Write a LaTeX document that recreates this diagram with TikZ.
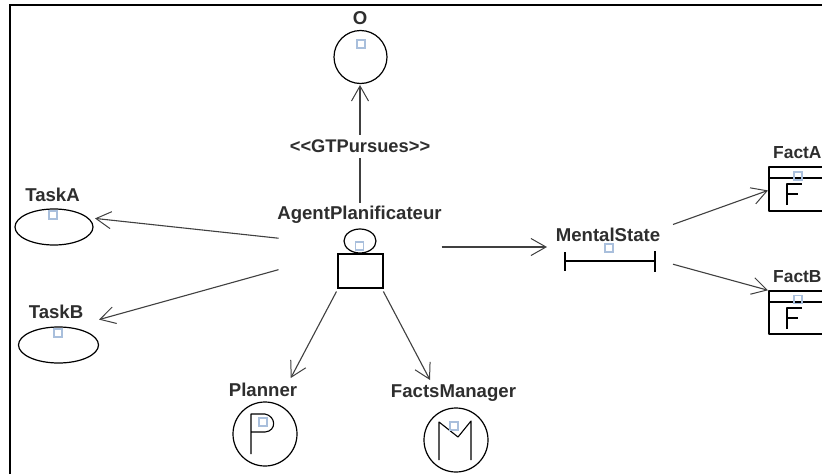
\documentclass[tikz,border=0pt]{standalone}
\usepackage{fontspec}
\setmainfont{Liberation Sans}
\usetikzlibrary{arrows.meta,shapes.geometric}
\definecolor{handle}{HTML}{A9BFDC}
\definecolor{labelc}{HTML}{2E2E2E}
\definecolor{linkc}{HTML}{404040}
\tikzset{
  x=1pt,y=-1pt,
  elabel/.style={font=\fontsize{18.6}{20}\selectfont\bfseries,text=labelc,inner sep=0pt,anchor=center},
  hull/.style={rectangle,minimum width=#1,inner sep=0pt,outer sep=0pt},
  shapeline/.style={draw=black,line width=1.2pt},
  iconline/.style={draw=black,line width=1.1pt,line join=round},
  grip/.style={draw=handle,line width=1.3pt,minimum size=8pt,inner sep=0pt,outer sep=0pt,rectangle},
  link/.style={draw=linkc,line width=1.1pt,-{Straight Barb[length=15pt,width=17pt,line width=1pt]}},
  plainlink/.style={draw=linkc,line width=1.1pt},
}
\begin{document}
\begin{tikzpicture}
\path[clip,use as bounding box] (0,0) rectangle (822,474);
\fill[white] (0,0) rectangle (822,474);
% frame
\draw[black,line width=2pt] (10,474) -- (10,4.5) -- (822,4.5);

% invisible hulls used as connector ends
\node[hull=163pt,minimum height=89pt] (agent) at (360,247) {};
\node[hull=60pt,minimum height=74pt] (goal) at (360,48) {};
\node[hull=82pt,minimum height=60pt] (taskA) at (54,214) {};
\node[hull=82pt,minimum height=60pt] (taskB) at (58,331) {};
\node[hull=80pt,minimum height=90pt] (planner) at (267,423) {};
\node[hull=132pt,minimum height=80pt] (facts) at (451,420) {};
\node[hull=126pt,minimum height=50pt] (mental) at (610,247) {};
\node[hull=64pt,minimum height=60pt] (factA) at (800,179) {};
\node[hull=64pt,minimum height=60pt] (factB) at (800,299) {};

% goal
\node[elabel] (goalText) at (360,18.5) {O};
\node[circle,shapeline,minimum size=53pt,inner sep=0pt] (goalIcon) at (360.5,57) {};
\node[grip] (goalGrip) at (361,44) {};

% agent
\node[elabel] (agentText) at (359.5,215) {AgentPlanificateur};
\node[ellipse,shapeline,minimum width=32pt,minimum height=24pt,inner sep=0pt] (agentHead) at (360,241) {};
\node[rectangle,shapeline,minimum width=45pt,minimum height=34pt,inner sep=0pt] (agentBody) at (360.5,271) {};
\node[grip] (agentGrip) at (359.5,246) {};

% tasks
\node[elabel] (taskAText) at (52.5,195) {TaskA};
\node[ellipse,shapeline,minimum width=78pt,minimum height=36pt,inner sep=0pt] (taskAIcon) at (54,227) {};
\node[grip] (taskAGrip) at (53,215) {};
\node[elabel] (taskBText) at (56,312) {TaskB};
\node[ellipse,shapeline,minimum width=80pt,minimum height=36pt,inner sep=0pt] (taskBIcon) at (58.5,345) {};
\node[grip] (taskBGrip) at (58,333) {};

% planner
\node[elabel] (plannerText) at (263,390) {Planner};
\node[circle,shapeline,minimum size=64pt,inner sep=0pt] (plannerIcon) at (265,434) {};
\draw[iconline] (251,454) -- (251,414) -- (265,414) .. controls (276,416) and (277,431) .. (265,432) -- (251,432);
\node[grip] (plannerGrip) at (263,422) {};

% facts manager
\node[elabel] (factsText) at (453.5,393) {FactsManager};
\node[circle,shapeline,minimum size=64pt,inner sep=0pt] (factsIcon) at (456,440) {};
\draw[iconline] (439,460) -- (439,422) -- (458,437) -- (471,421) -- (471,460);
\node[grip] (factsGrip) at (454,426) {};

% mental state
\node[elabel] (mentalText) at (608,235) {MentalState};
\draw[iconline] (565,252) -- (565,271) (565,261) -- (655,261) (655,251) -- (655,272);
\node[grip] (mentalGrip) at (609,248) {};

% facts
\node[elabel,anchor=west,font=\fontsize{17.4}{20}\selectfont\bfseries] (factAText) at (773,153) {FactA};
\draw[iconline] (830,167) -- (769,167) -- (769,211) -- (830,211) (769,178) -- (830,178);
\draw[iconline] (787,205) -- (787,184) -- (802,184) (787,194) -- (798,194);
\node[grip] (factAGrip) at (798,176) {};
\node[elabel,anchor=west,font=\fontsize{17.4}{20}\selectfont\bfseries] (factBText) at (773,277) {FactB};
\draw[iconline] (830,291) -- (769,291) -- (769,334) -- (830,334) (769,302) -- (830,302);
\draw[iconline] (787,329) -- (787,308) -- (802,308) (787,318) -- (798,318);
\node[grip] (factBGrip) at (798,299.5) {};

% connectors
\node[elabel,minimum height=23pt,inner xsep=2pt,font=\fontsize{18.3}{20}\selectfont\bfseries] (pursues) at (360,146.5) {<{}<GTPursues>{}>};
\draw[plainlink] (agent) -- (pursues);
\draw[link] (pursues) -- (goal);
\draw[link] (agent) -- (taskA);
\draw[link] (agent) -- (taskB);
\draw[link] (agent) -- (planner);
\draw[link] (agent) -- (facts);
\draw[link] (agent) -- (mental);
\draw[link] (mental) -- (factA);
\draw[link] (mental) -- (factB);
\end{tikzpicture}
\end{document}
